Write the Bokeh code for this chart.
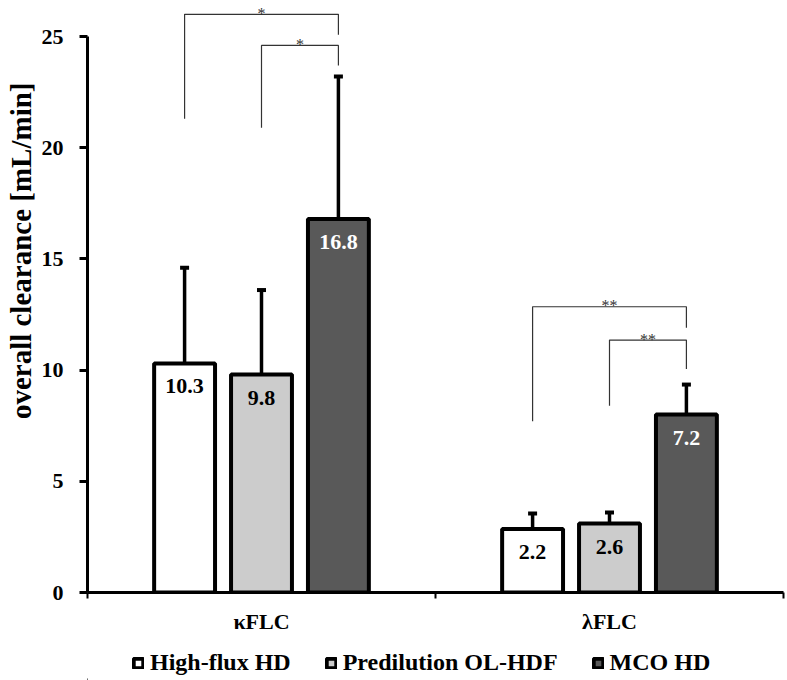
from bokeh.plotting import figure
from bokeh.layouts import column
from bokeh.models import FixedTicker, Legend, LegendItem, Range1d, Title
from bokeh.core.properties import value
from bokeh.embed import file_html
from bokeh.resources import INLINE

# ---------------- data ----------------
groups = ["κFLC", "λFLC"]
series = ["High-flux HD", "Predilution OL-HDF", "MCO HD"]
high_flux = [10.3, 2.85]
predilution = [9.8, 3.1]
mco = [16.8, 8.0]
high_flux_sd = [4.3, 0.7]
predilution_sd = [3.8, 0.5]
mco_sd = [6.4, 1.35]
high_flux_labels = ["10.3", "2.2"]
predilution_labels = ["9.8", "2.6"]
mco_labels = ["16.8", "7.2"]
y_ticks = [0, 5, 10, 15, 20, 25]
y_title = "overall clearance [mL/min]"
# significance brackets: (group, left series, right series, left-leg bottom, top, right-leg bottom, mark)
brackets = [
    (0, 0, 2, 21.3, 26.0, 25.08, "*"),
    (0, 1, 2, 20.9, 24.6, 23.7, "*"),
    (1, 0, 2, 7.7, 12.85, 11.9, "**"),
    (1, 1, 2, 8.4, 11.35, 10.05, "**"),
]

# ---------------- style ----------------
FONT = "Liberation Serif"
fills = ["#ffffff", "#cccccc", "#595959"]
label_colors = ["black", "black", "white"]
offsets = [-0.221, 0.0, 0.221]
bar_w = 0.175

values = [high_flux, predilution, mco]
sds = [high_flux_sd, predilution_sd, mco_sd]
labels = [high_flux_labels, predilution_labels, mco_labels]

p = figure(width=787, height=646, x_range=Range1d(0, 2), y_range=Range1d(0, 26.62),
           output_backend="svg", toolbar_location=None,
           min_border_left=87, min_border_right=4, min_border_top=0, min_border_bottom=54)
p.grid.visible = False
p.outline_line_color = None

def xpos(g, s):
    return g + 0.5 + offsets[s]

for s in range(3):
    xs = [xpos(g, s) for g in range(len(groups))]
    tops = [v + e for v, e in zip(values[s], sds[s])]
    p.segment(x0=xs, y0=values[s], x1=xs, y1=tops, line_width=3.5, line_color="black")
    p.scatter(x=xs, y=tops, marker="dash", size=9, line_width=4, line_color="black")
    p.vbar(x=xs, top=values[s], width=bar_w, bottom=0, fill_color=fills[s],
           line_color="black", line_width=4)
    p.text(x=xs, y=values[s], text=labels[s], text_font=value(FONT), text_font_style="bold",
           text_font_size="22px", text_align="center", text_baseline="top", y_offset=16,
           text_color=label_colors[s])

bx, by, sx, sy, st = [], [], [], [], []
for g, a, b, lb, top, rb, mark in brackets:
    xl, xr = xpos(g, a), xpos(g, b)
    bx.append([xl, xl, xr, xr])
    by.append([lb, top, top, rb])
    sx.append((xl + xr) / 2)
    sy.append(top)
    st.append(mark)
p.multi_line(xs=bx, ys=by, line_width=1.2, line_color="#333333")
p.text(x=sx, y=sy, text=st, text_font=value(FONT), text_font_size="16px", text_align="center",
       text_baseline="alphabetic", y_offset=-1, text_color="#333333")

# x axis
xa = p.xaxis[0]
xa.ticker = FixedTicker(ticks=[0.5, 1.5], minor_ticks=[0, 1, 2])
xa.major_label_overrides = {0.5: groups[0], 1.5: groups[1]}
xa.major_tick_line_color = None
xa.major_tick_out = 0
xa.major_tick_in = 0
xa.minor_tick_out = 6
xa.minor_tick_in = 0
xa.minor_tick_line_width = 2
xa.minor_tick_line_color = "black"
xa.axis_line_width = 3
xa.axis_line_color = "black"
xa.major_label_text_font = FONT
xa.major_label_text_font_style = "bold"
xa.major_label_text_font_size = "22px"
xa.major_label_text_color = "black"
xa.major_label_standoff = 10

# y axis
ya = p.yaxis[0]
ya.ticker = FixedTicker(ticks=y_ticks)
ya.bounds = (0, 25)
ya.axis_line_width = 3
ya.axis_line_color = "black"
ya.major_tick_out = 8
ya.major_tick_in = 0
ya.major_tick_line_width = 3
ya.major_tick_line_color = "black"
ya.minor_tick_line_color = None
ya.major_label_text_font = FONT
ya.major_label_text_font_style = "bold"
ya.major_label_text_font_size = "22px"
ya.major_label_text_color = "black"
ya.major_label_standoff = 16

p.add_layout(Title(text=y_title, align="right", vertical_align="top", offset=82, text_font=FONT,
                   text_font_style="bold", text_font_size="29px", text_color="black",
                   standoff=0), "left")

# legend strip (its frame is aligned with the chart frame by the column layout)
lg = figure(width=787, height=34, x_range=Range1d(0, 1), y_range=Range1d(0, 1),
            output_backend="svg", toolbar_location=None, x_axis_type=None, y_axis_type=None,
            min_border_left=87, min_border_right=4, min_border_top=0, min_border_bottom=0)
lg.grid.visible = False
lg.outline_line_color = None
items = []
for i in range(3):
    # legend swatch renderer, placed outside the visible range
    r = lg.vbar(x=[-1], top=[0], width=0.1, fill_color=fills[i], line_color="black", line_width=4)
    items.append(LegendItem(label=series[i], renderers=[r]))
legend = Legend(items=items, orientation="horizontal", location=(45, 4), border_line_color=None,
                background_fill_alpha=0, label_text_font=FONT, label_text_font_style="bold",
                label_text_font_size="24px", label_text_color="black",
                glyph_width=12, glyph_height=12,
                label_standoff=6, spacing=34, padding=0, margin=0)
lg.add_layout(legend)

open("out.html", "w").write(file_html(column(p, lg, spacing=0), INLINE))
